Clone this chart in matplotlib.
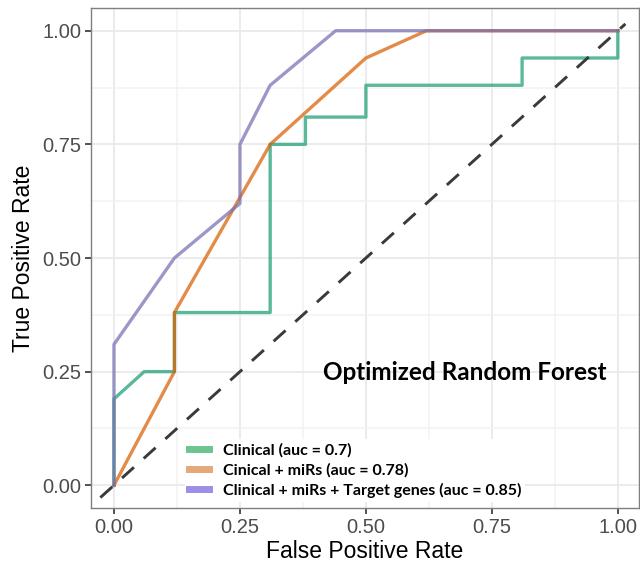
import matplotlib
matplotlib.use("Agg")
import matplotlib.pyplot as plt
from matplotlib.lines import Line2D

# ROC curves
fpr_clin = [0.0, 0.0, 0.06, 0.12, 0.12, 0.31, 0.31, 0.38, 0.38, 0.50, 0.50, 0.81, 0.81, 1.00, 1.00]
tpr_clin = [0.0, 0.19, 0.25, 0.25, 0.38, 0.38, 0.75, 0.75, 0.81, 0.81, 0.88, 0.88, 0.94, 0.94, 1.00]

fpr_mirs = [0.0, 0.12, 0.12, 0.31, 0.50, 0.62, 1.00]
tpr_mirs = [0.0, 0.25, 0.38, 0.75, 0.94, 1.00, 1.00]

fpr_genes = [0.0, 0.0, 0.12, 0.25, 0.25, 0.31, 0.44, 1.00]
tpr_genes = [0.0, 0.31, 0.50, 0.62, 0.75, 0.88, 1.00, 1.00]

diag = [-0.027, 1.015]

labels = ["Clinical (auc = 0.7)",
          "Cinical + miRs (auc = 0.78)",
          "Clinical + miRs + Target genes (auc = 0.85)"]
line_colors = ["#1B9E77", "#D95F02", "#7570B3"]
key_colors = ["#6CC48E", "#E5A878", "#9C8FE6"]
ticks = [0.0, 0.25, 0.5, 0.75, 1.0]
tick_labels = ["0.00", "0.25", "0.50", "0.75", "1.00"]

W, H = 640, 566
fig = plt.figure(figsize=(W / 100, H / 100), dpi=100)
ax = fig.add_axes([91 / W, 1 - 508 / H, 548 / W, 500 / H])

ax.set_xlim(-0.0456, 1.042)
ax.set_ylim(-0.05, 1.05)

# ggplot-like grid
ax.set_xticks(ticks)
ax.set_yticks(ticks)
ax.set_xticks([0.125, 0.375, 0.625, 0.875], minor=True)
ax.set_yticks([0.125, 0.375, 0.625, 0.875], minor=True)
ax.grid(which="major", color="#EBEBEB", lw=1.4)
ax.grid(which="minor", color="#F2F2F2", lw=1.1)
ax.set_axisbelow(True)
ax.set_xticklabels(tick_labels)
ax.set_yticklabels(tick_labels)
ax.tick_params(which="major", length=4.5, width=1.2, color="#333333",
               labelsize=14.5, labelcolor="#4D4D4D", pad=2.5)
ax.tick_params(which="minor", length=0)
for s in ax.spines.values():
    s.set_color("#7F7F7F")
    s.set_linewidth(1.0)

ax.plot(fpr_clin, tpr_clin, color=line_colors[0], lw=2.4, alpha=0.72)
ax.plot(fpr_mirs, tpr_mirs, color=line_colors[1], lw=2.4, alpha=0.72)
ax.plot(fpr_genes, tpr_genes, color=line_colors[2], lw=2.4, alpha=0.72)
ax.plot(diag, diag, color="#3A3A3A", lw=2.1, dashes=(5.5, 4.5))

ax.set_xlabel("False Positive Rate", fontsize=16.5, family="Liberation Sans", labelpad=2)
ax.set_ylabel("True Positive Rate", fontsize=16.5, family="Liberation Sans", labelpad=5)
for lab in ax.get_xticklabels() + ax.get_yticklabels():
    lab.set_family("Liberation Sans")

ax.text(0.697, 0.248, "Optimized Random Forest", fontsize=17.5, fontweight="bold",
        family="Lato", ha="center", va="center", color="black")

handles = [Line2D([], [], color=c, lw=5) for c in key_colors]
leg = ax.legend(handles, labels, loc="upper left",
                bbox_to_anchor=(177 / W, 1 - 431 / H), bbox_transform=fig.transFigure,
                frameon=True, framealpha=1, facecolor="white", edgecolor="none",
                fancybox=False, handlelength=1.25, handletextpad=0.85,
                labelspacing=0.33, borderpad=0.25,
                prop={"family": "Lato", "weight": "bold", "size": 11.5})

fig.savefig("out.png", dpi=100)
